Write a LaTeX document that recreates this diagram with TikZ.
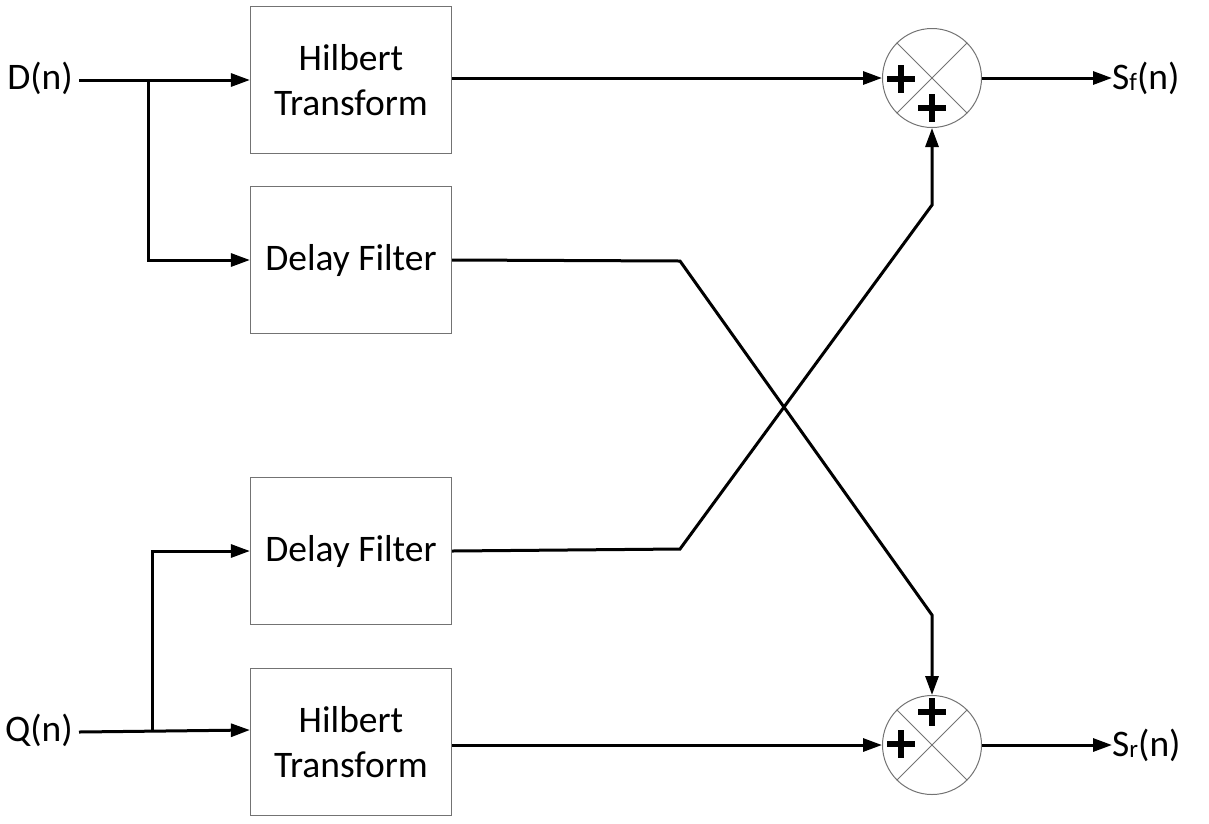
\documentclass[tikz,border=0pt]{standalone}
\usepackage{fontspec}
\setmainfont{Carlito}
\usetikzlibrary{arrows.meta}
\tikzset{
  blk/.style={draw=black!55, line width=1.2pt, minimum width=201pt, minimum height=147pt,
    font=\fontsize{37.5}{45}\selectfont, align=center, inner sep=0pt},
  lbl/.style={font=\fontsize{37.5}{40}\selectfont, inner sep=0pt},
  sig/.style={line width=3pt, -{Triangle[length=19pt,width=13pt]}},
  sumnode/.style={circle, draw=black!55, line width=1pt, minimum size=99pt, inner sep=0pt},
  xline/.style={draw=black!55, line width=0.9pt},
  pls/.pic={\draw[line width=5.5pt] (-14,0) -- (14,0) (0,-14) -- (0,14);}
}
\newcommand{\subsc}[1]{\raisebox{-1pt}{\fontsize{25}{25}\selectfont #1}}
\begin{document}
\begin{tikzpicture}[x=1pt, y=-1pt]
  \useasboundingbox (0,0) rectangle (1209,823);

  % processing blocks
  \node[blk] (h1) at (351,80) {Hilbert\\Transform};
  \node[blk] (d1) at (351,260) {Delay Filter};
  \node[blk] (d2) at (351,551) {Delay Filter};
  \node[blk] (h2) at (351,742) {Hilbert\\Transform};

  % inputs
  \node[lbl, anchor=east] (D) at (73,78) {D(n)};
  \node[lbl, anchor=east] (Q) at (73,730) {Q(n)};
  \coordinate (jd) at (148,80);
  \coordinate (jq) at (152,732);

  \draw[sig] (79,80) -- (h1.west);
  \draw[sig] (jd) |- (d1.west);
  \draw[sig] (79,732) -- (Q.east -| h2.west);
  \draw[sig] (jq) |- (d2.west);

  % summing junctions
  \node[sumnode] (s1) at (932,78) {};
  \node[sumnode] (s2) at (932,745) {};
  \foreach \s in {s1,s2} {
    \draw[xline] (\s.north west) -- (\s.south east);
    \draw[xline] (\s.north east) -- (\s.south west);
  }
  \pic at (901,79) {pls};
  \pic at (932,108) {pls};
  \pic at (932,712) {pls};
  \pic at (901,744) {pls};

  % Hilbert outputs
  \draw[sig] (s1.west -| h1.east) -- (s1.west);
  \draw[sig] (s2.west -| h2.east) -- (s2.west);

  % crossed delay paths
  \coordinate (k1) at (680,261);
  \coordinate (k2) at (932,615);
  \coordinate (k3) at (680,549);
  \coordinate (k4) at (932,205);
  \draw[sig] (d1.east) -- (k1) -- (k2) -- (s2.north);
  \draw[sig] (d2.east) -- (k3) -- (k4) -- (s1.south);

  % outputs
  \node[lbl, anchor=west] (o1) at (1112,78) {S\subsc{f}(n)};
  \node[lbl, anchor=west] (o2) at (1112,745) {S\subsc{r}(n)};
  \draw[sig] (s1.east) -- (s1.east -| o1.west);
  \draw[sig] (s2.east) -- (s2.east -| o2.west);
\end{tikzpicture}
\end{document}
